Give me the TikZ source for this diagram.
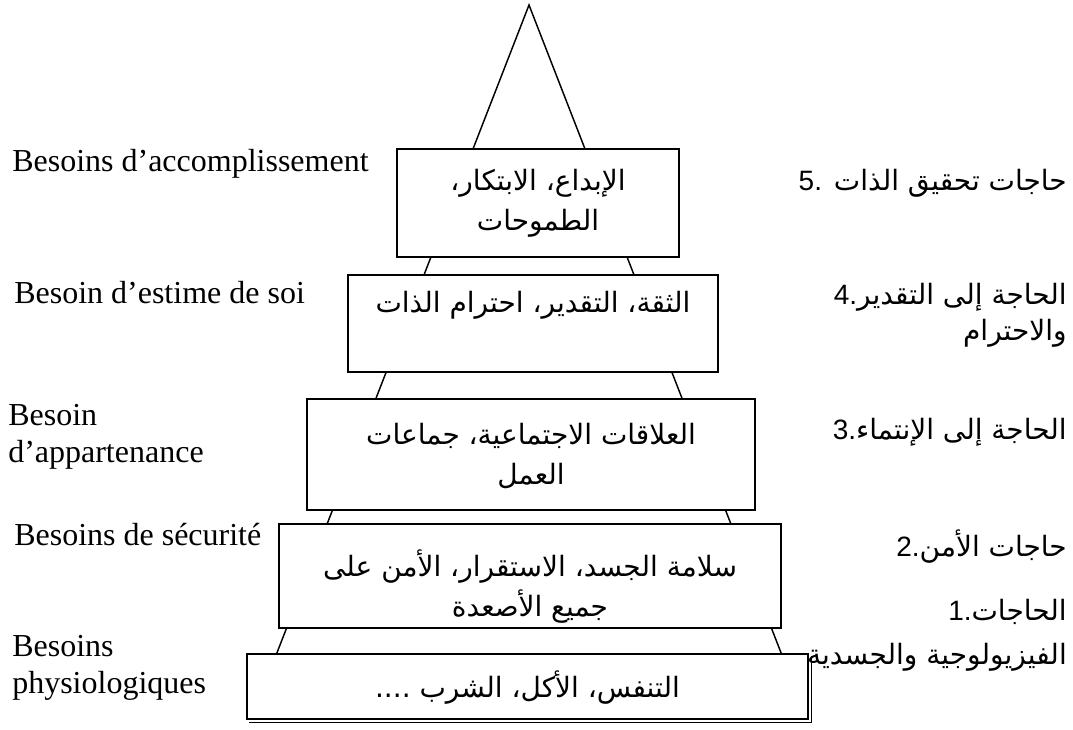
\documentclass[tikz,border=0pt]{standalone}
\usepackage{fontspec}
\usetikzlibrary{calc}
\setmainfont{Liberation Serif}
\newfontfamily\arabicfont[Script=Arabic]{DejaVu Sans}
\newfontfamily\numfont{Liberation Sans}
\TeXXeTstate=1
\newcommand{\ar}[1]{\beginR #1\endR}

\tikzset{
  pyr/.style={line width=1.1pt, line join=miter},
  levelbox/.style={draw, line width=1.1pt, fill=white, inner sep=0pt},
  boxtext/.style={font=\arabicfont\fontsize{21}{30}\selectfont, align=center, inner sep=0pt},
  frlabel/.style={font=\fontsize{24}{27.5}\selectfont, align=left, inner sep=0pt},
  arlabel/.style={font=\arabicfont\fontsize{21}{27}\selectfont, align=right, anchor=east, inner sep=0pt}
}

\begin{document}
\begin{tikzpicture}[x=0.75pt, y=-0.75pt]
  \useasboundingbox (0,0) rectangle (1073,729);

  % outline of the pyramid, partly hidden by the level boxes
  \coordinate (apex) at (529,5);
  \coordinate (baseL) at (276.5,654);
  \coordinate (baseR) at (781.5,654);
  \draw[pyr] (baseL) -- (apex) -- (baseR);

  % level boxes, from top to bottom
  \node[levelbox, minimum width=211.5pt, minimum height=81pt]    (b5) at (538,203) {};
  \node[levelbox, minimum width=277.5pt, minimum height=72.75pt] (b4) at (533,323.5) {};
  \node[levelbox, minimum width=336pt,   minimum height=83.25pt] (b3) at (531,454.5) {};
  \node[levelbox, minimum width=376.5pt, minimum height=78pt]    (b2) at (530,576) {};
  \node[levelbox, minimum width=420.75pt, minimum height=48.75pt] (b1) at (527.5,686.5) {};
  % double edge under the base box
  \draw[line width=1.1pt] ($(b1.south west)+(3,3)$) -- ($(b1.south east)+(3,3)$) -- ($(b1.north east)+(3,3)$);

  % contents of the boxes
  \node[boxtext] (t5) at (538,203) {\ar{الإبداع، الابتكار،}\\\ar{الطموحات}};
  \node[boxtext] (t4) at (533,305) {\ar{الثقة، التقدير، احترام الذات}};
  \node[boxtext] (t3) at (531,456) {\ar{العلاقات الاجتماعية، جماعات}\\\ar{العمل}};
  \node[boxtext] (t2) at (530,587) {\ar{سلامة الجسد، الاستقرار، الأمن على}\\\ar{جميع الأصعدة}};
  \node[boxtext] (t1) at (527.5,688) {\ar{التنفس، الأكل، الشرب ....}};

  % French labels on the left
  \node[frlabel, anchor=base west] (f5) at (12,171) {Besoins d’accomplissement};
  \node[frlabel, anchor=base west] (f4) at (14,303) {Besoin d’estime de soi};
  \node[frlabel, anchor=west]      (f3) at (8,437)  {Besoin\\d’appartenance};
  \node[frlabel, anchor=base west] (f2) at (14,545) {Besoins de sécurité};
  \node[frlabel, anchor=west]      (f1) at (12,668) {Besoins\\physiologiques};

  % Arabic labels on the right
  \node[arlabel] (a5) at (1067,183) {{\numfont 5.} \ar{حاجات تحقيق الذات}};
  \node[arlabel] (a4) at (1067,315) {{\numfont 4.}\ar{الحاجة إلى التقدير}\\\ar{والاحترام}};
  \node[arlabel] (a3) at (1067,432) {{\numfont 3.}\ar{الحاجة إلى الإنتماء}};
  \node[arlabel] (a2) at (1067,547) {{\numfont 2.}\ar{حاجات الأمن}};
  \node[arlabel] (a1a) at (1067,612) {{\numfont 1.}\ar{الحاجات}};
  \node[arlabel] (a1b) at (1067,657) {\ar{الفيزيولوجية والجسدية}};
\end{tikzpicture}
\end{document}
